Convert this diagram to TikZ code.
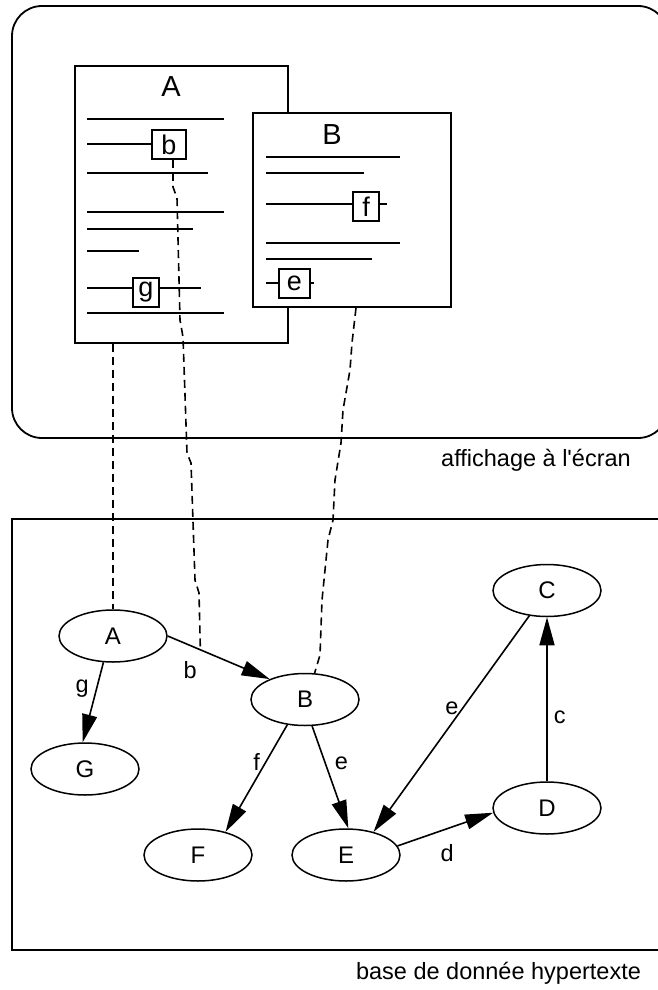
\documentclass[tikz,border=0pt]{standalone}
\usepackage{fontspec}
\setmainfont{Liberation Sans}
\usetikzlibrary{calc,positioning,arrows.meta,shapes.geometric}

\begin{document}
\begin{tikzpicture}[
  x=1pt, y=-1pt,
  fenetre/.style={draw, fill=white, line width=1.8pt, inner sep=0pt},
  titre/.style={inner sep=0pt, font=\fontsize{29}{34}\selectfont},
  lien/.style={draw, fill=white, line width=1.6pt, inner sep=0pt, minimum height=29pt, font=\fontsize{27}{30}\selectfont},
  noeud/.style={draw, ellipse, line width=1.5pt, minimum width=108pt, minimum height=52pt, inner sep=0pt, font=\fontsize{24}{28}\selectfont},
  fleche/.style={-{Triangle[length=28pt,width=15pt]}, line width=1.6pt},
  etiq/.style={inner sep=2pt, font=\fontsize{23.5}{28}\selectfont},
  pointille/.style={dash pattern=on 8pt off 5pt, line width=1.6pt},
  ]
  \useasboundingbox (0,0) rectangle (658,990);
  \clip (0,0) rectangle (658,990);

  % les deux cadres
  \draw[line width=1.8pt, rounded corners=30pt] (12,6) rectangle (668,438);
  \draw[line width=1.8pt] (12,519) rectangle (668,950);
  \node[etiq] (ecran) at (536,460) {affichage à l\textquotesingle écran};
  \node[etiq] (base) at (498.5,973) {base de donnée hypertexte};

  % fenetre A
  \node[fenetre, minimum width=213pt, minimum height=277pt] (winA) at (181.5,204.5) {};
  \node[titre] (titA) at (171,87) {A};
  \foreach \y/\x in {119/224, 144/186, 173/208, 212/224, 229/193, 251/139, 288/201, 313/224}
    \draw[line width=1.6pt] (87,\y) -- (\x,\y);
  \node[lien, minimum width=34pt] (boxb) at (169,144.5) {b};
  \node[lien, minimum width=26pt] (boxg) at (146,292.5) {g};

  % fenetre B
  \node[fenetre, minimum width=198pt, minimum height=194pt] (winB) at (352,210) {};
  \node[titre] (titB) at (332,135) {B};
  \foreach \y/\x in {157/400, 173/364, 204/387, 243/400, 259/372, 283/314}
    \draw[line width=1.6pt] (266,\y) -- (\x,\y);
  \node[lien, minimum width=26pt] (boxf) at (366,206.5) {f};
  \node[lien, minimum width=31pt] (boxe) at (294.5,283.5) {e};

  % graphe
  \node[noeud] (nA) at (113,636) {A};
  \node[noeud] (nB) at (305,699.5) {B};
  \node[noeud] (nC) at (547,590.5) {C};
  \node[noeud] (nD) at (547,808) {D};
  \node[noeud] (nE) at (346,855) {E};
  \node[noeud] (nF) at (198,855) {F};
  \node[noeud] (nG) at (85,769) {G};

  \draw[fleche] (nA.east) -- coordinate[pos=.32] (bpied) node[etiq, pos=.22, below=13pt] {b} (nB.150);
  \draw[fleche] (nA.250) -- node[etiq, pos=.33, left=5pt] {g} (nG.95);
  \draw[fleche] (nB.235) -- node[etiq, pos=.35, left=3pt] {f} (nF.40);
  \draw[fleche] (nB.285) -- node[etiq, pos=.36, right=7pt] {e} (nE.85);
  \draw[fleche] (nC.235) -- node[etiq, pos=.43, left=1pt] {e} (nE.40);
  \draw[fleche] (nE.10) -- node[etiq, pos=.52, below=13pt] {d} (nD.185);
  \draw[fleche] (nD.north) -- node[etiq, pos=.39, right=4pt] {c} (nC.south);

  % liens pointilles
  \draw[pointille] (nA.north |- winA.south) -- (nA.north);
  \draw[pointille] ([xshift=4pt]boxb.south) -- (173,187) -- (177,198) -- (180,320) -- (183,337)
    -- (187,453) -- (191,463) -- (195,580) -- (199,593) -- (bpied);
  \draw[pointille] ([xshift=4pt]winB.south) -- (352,343) -- (350,370) -- (343,410) -- (341,443)
    -- (335,480) -- (333,520) -- (328,540) -- (322,600) -- (320,655) -- (nB.70);

\end{tikzpicture}
\end{document}
